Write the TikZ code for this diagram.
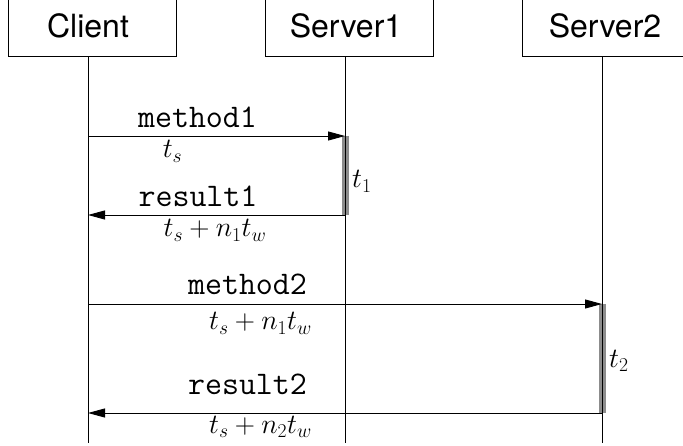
\RequirePackage{fix-cm}
\documentclass[tikz,border=0pt]{standalone}
\usepackage{fontspec}
\setsansfont{TeX Gyre Heros}
\usetikzlibrary{arrows.meta}
\begin{document}
\begin{tikzpicture}[x=1pt,y=-1pt,
  actorbox/.style={draw, line width=0.9pt, minimum width=168pt, minimum height=80pt, inner sep=0pt, anchor=south},
  actortext/.style={font=\fontsize{32}{38}\selectfont\sffamily, inner sep=0pt, anchor=base},
  lifeline/.style={line width=0.9pt},
  msg/.style={line width=0.9pt, -{Triangle[length=17pt,width=9pt]}},
  actbar/.style={line width=7pt, draw=black!45},
  msgtext/.style={font=\fontsize{33}{38}\selectfont\ttfamily, inner sep=0pt, anchor=base},
  mathtext/.style={font=\fontsize{28}{33}\selectfont, inner sep=0pt, anchor=base},
]
\useasboundingbox (0,0) rectangle (683,446);

% actor boxes
\node[actorbox] (clientbox) at (92,57) {};
\node[actorbox] (server1box) at (349,57) {};
\node[actorbox] (server2box) at (606,57) {};
\node[actortext] (client) at (88,38) {Client};
\node[actortext] (server1) at (346,38) {Server1};
\node[actortext] (server2) at (605,38) {Server2};

% lifeline ends
\coordinate (cE) at (88,443);
\coordinate (s1E) at (345,443);
\coordinate (s2E) at (602,443);
\draw[lifeline] (cE |- clientbox.south) -- (cE);
\draw[lifeline] (s1E |- server1box.south) -- (s1E);
\draw[lifeline] (s2E |- server2box.south) -- (s2E);

% message points
\coordinate (m1c) at (88,136);
\coordinate (m1s) at (345,136);
\coordinate (r1s) at (345,215);
\coordinate (r1c) at (88,215);
\coordinate (m2c) at (88,304);
\coordinate (m2s) at (602,304);
\coordinate (r2s) at (602,413);
\coordinate (r2c) at (88,413);

% activation bars
\draw[actbar] (m1s) -- (r1s);
\draw[actbar] (m2s) -- (r2s);
\draw[lifeline] (m1s) -- (r1s);
\draw[lifeline] (m2s) -- (r2s);

% messages
\draw[msg] (m1c) -- (m1s);
\draw[msg] (r1s) -- (r1c);
\draw[msg] (m2c) -- (m2s);
\draw[msg] (r2s) -- (r2c);

% labels
\node[msgtext] (method1) at (197.5,128) {method1};
\node[mathtext] (ts1) at (172.5,158) {$t_s$};
\node[msgtext] (result1) at (198,207) {result1};
\node[mathtext] (tr1) at (215,237) {$t_s+n_1t_w$};
\node[mathtext, anchor=base west] (t1) at (352,188) {$t_1$};

\node[msgtext] (method2) at (247.5,295) {method2};
\node[mathtext] (ts2) at (260.5,330) {$t_s+n_1t_w$};
\node[msgtext] (result2) at (247.5,394) {result2};
\node[mathtext] (tr2) at (260.5,433) {$t_s+n_2t_w$};
\node[mathtext, anchor=base west] (t2) at (609,367) {$t_2$};
\end{tikzpicture}
\end{document}
